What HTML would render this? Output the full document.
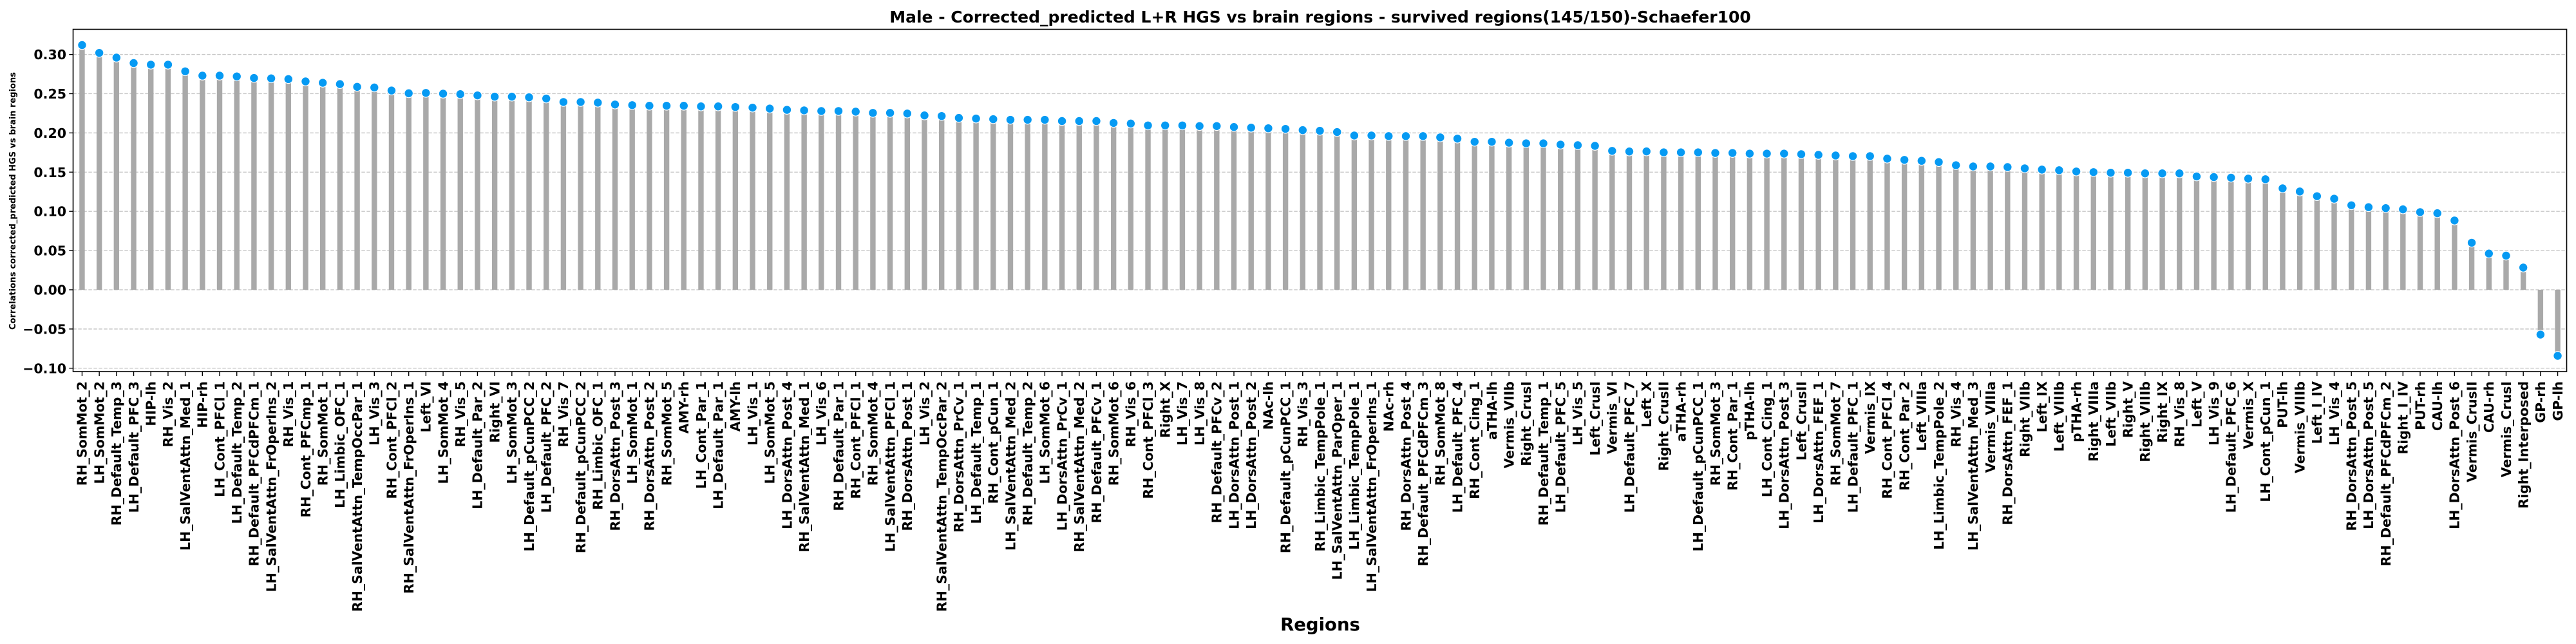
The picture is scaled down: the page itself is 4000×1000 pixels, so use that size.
<!DOCTYPE html>
<html>
<head>
<meta charset="utf-8">
<style>
  html,body{margin:0;padding:0;background:#fff;}
  svg{display:block;font-family:"DejaVu Sans","Liberation Sans",sans-serif;}
</style>
</head>
<body>
<svg id="chart" width="4000" height="1000" viewBox="0 0 4000 1000" xmlns="http://www.w3.org/2000/svg">
  <rect x="0" y="0" width="4000" height="1000" fill="#ffffff"/>
  <text x="2050" y="35" text-anchor="middle" font-size="25" font-weight="bold" fill="#000">Male - Corrected_predicted L+R HGS vs brain regions - survived regions(145/150)-Schaefer100</text>
  <g id="grid"></g>
  <g id="bars"></g>
  <g id="points"></g>
  <rect x="113.5" y="45.5" width="3872" height="531.5" fill="none" stroke="#000" stroke-width="1.6"/>
  <g id="yaxis"></g>
  <g id="xaxis"></g>
  <text transform="translate(24,312) rotate(-90)" text-anchor="middle" font-size="13" font-weight="bold" fill="#000">Correlations corrected_predicted HGS vs brain regions</text>
  <text x="2050" y="979" text-anchor="middle" font-size="27.5" font-weight="bold" fill="#000">Regions</text>
</svg>
<script>
const categories = ["RH_SomMot_2","LH_SomMot_2","RH_Default_Temp_3","LH_Default_PFC_3","HIP-lh","RH_Vis_2","LH_SalVentAttn_Med_1","HIP-rh","LH_Cont_PFCl_1","LH_Default_Temp_2","RH_Default_PFCdPFCm_1","LH_SalVentAttn_FrOperIns_2","RH_Vis_1","RH_Cont_PFCmp_1","RH_SomMot_1","LH_Limbic_OFC_1","RH_SalVentAttn_TempOccPar_1","LH_Vis_3","RH_Cont_PFCl_2","RH_SalVentAttn_FrOperIns_1","Left_VI","LH_SomMot_4","RH_Vis_5","LH_Default_Par_2","Right_VI","LH_SomMot_3","LH_Default_pCunPCC_2","LH_Default_PFC_2","RH_Vis_7","RH_Default_pCunPCC_2","RH_Limbic_OFC_1","RH_DorsAttn_Post_3","LH_SomMot_1","RH_DorsAttn_Post_2","RH_SomMot_5","AMY-rh","LH_Cont_Par_1","LH_Default_Par_1","AMY-lh","LH_Vis_1","LH_SomMot_5","LH_DorsAttn_Post_4","RH_SalVentAttn_Med_1","LH_Vis_6","RH_Default_Par_1","RH_Cont_PFCl_1","RH_SomMot_4","LH_SalVentAttn_PFCl_1","RH_DorsAttn_Post_1","LH_Vis_2","RH_SalVentAttn_TempOccPar_2","RH_DorsAttn_PrCv_1","LH_Default_Temp_1","RH_Cont_pCun_1","LH_SalVentAttn_Med_2","RH_Default_Temp_2","LH_SomMot_6","LH_DorsAttn_PrCv_1","RH_SalVentAttn_Med_2","RH_Default_PFCv_1","RH_SomMot_6","RH_Vis_6","RH_Cont_PFCl_3","Right_X","LH_Vis_7","LH_Vis_8","RH_Default_PFCv_2","LH_DorsAttn_Post_1","LH_DorsAttn_Post_2","NAc-lh","RH_Default_pCunPCC_1","RH_Vis_3","RH_Limbic_TempPole_1","LH_SalVentAttn_ParOper_1","LH_Limbic_TempPole_1","LH_SalVentAttn_FrOperIns_1","NAc-rh","RH_DorsAttn_Post_4","RH_Default_PFCdPFCm_3","RH_SomMot_8","LH_Default_PFC_4","RH_Cont_Cing_1","aTHA-lh","Vermis_VIIb","Right_CrusI","RH_Default_Temp_1","LH_Default_PFC_5","LH_Vis_5","Left_CrusI","Vermis_VI","LH_Default_PFC_7","Left_X","Right_CrusII","aTHA-rh","LH_Default_pCunPCC_1","RH_SomMot_3","RH_Cont_Par_1","pTHA-lh","LH_Cont_Cing_1","LH_DorsAttn_Post_3","Left_CrusII","LH_DorsAttn_FEF_1","RH_SomMot_7","LH_Default_PFC_1","Vermis_IX","RH_Cont_PFCl_4","RH_Cont_Par_2","Left_VIIIa","LH_Limbic_TempPole_2","RH_Vis_4","LH_SalVentAttn_Med_3","Vermis_VIIIa","RH_DorsAttn_FEF_1","Right_VIIb","Left_IX","Left_VIIIb","pTHA-rh","Right_VIIIa","Left_VIIb","Right_V","Right_VIIIb","Right_IX","RH_Vis_8","Left_V","LH_Vis_9","LH_Default_PFC_6","Vermis_X","LH_Cont_pCun_1","PUT-lh","Vermis_VIIIb","Left_I_IV","LH_Vis_4","RH_DorsAttn_Post_5","LH_DorsAttn_Post_5","RH_Default_PFCdPFCm_2","Right_I_IV","PUT-rh","CAU-lh","LH_DorsAttn_Post_6","Vermis_CrusII","CAU-rh","Vermis_CrusI","Right_Interposed","GP-rh","GP-lh"];
const correlations = [0.312,0.302,0.296,0.289,0.287,0.287,0.2785,0.273,0.273,0.272,0.270,0.2695,0.2686,0.2656,0.2639,0.2622,0.2587,0.2579,0.254,0.2505,0.251,0.250,0.2494,0.2478,0.2462,0.2462,0.2454,0.2438,0.2394,0.2394,0.2386,0.2362,0.2354,0.2346,0.2346,0.2346,0.2338,0.2338,0.233,0.2322,0.231,0.2294,0.2287,0.2279,0.2279,0.2271,0.2255,0.2255,0.2247,0.2223,0.2215,0.2191,0.2183,0.2175,0.2167,0.2167,0.2167,0.2151,0.2151,0.2151,0.2127,0.2119,0.2095,0.2095,0.2095,0.2087,0.2087,0.2075,0.2067,0.2059,0.2051,0.2035,0.2027,0.2011,0.1967,0.1967,0.1959,0.1959,0.1959,0.1943,0.1927,0.1887,0.1887,0.1875,0.1867,0.1867,0.1851,0.1843,0.1835,0.1771,0.1763,0.1764,0.1752,0.1752,0.1752,0.1744,0.1744,0.1736,0.1736,0.1736,0.1728,0.172,0.1712,0.1704,0.1704,0.1672,0.1656,0.1644,0.1628,0.1588,0.1572,0.1572,0.1564,0.1548,0.1532,0.1524,0.1508,0.15,0.1492,0.1492,0.1484,0.1484,0.1484,0.1445,0.1437,0.1429,0.1417,0.1409,0.1293,0.1253,0.1193,0.1161,0.1077,0.1053,0.1041,0.1025,0.099,0.0976,0.0883,0.060,0.0462,0.0435,0.0283,-0.0571,-0.0842];
const yTicks = [-0.10,-0.05,0.00,0.05,0.10,0.15,0.20,0.25,0.30];
const yTickLabels = ["\u22120.10","\u22120.05","0.00","0.05","0.10","0.15","0.20","0.25","0.30"];

const NS = "http://www.w3.org/2000/svg";
const plotL = 113.3, plotR = 3985.7, plotT = 45, plotB = 577;
const yMin = -0.1043, yMax = 0.3325;
function xScale(i){ return plotL + (i + 0.53) * (plotR - plotL) / (categories.length + 0.06); }
function yScale(v){ return plotB - (v - yMin) * (plotB - plotT) / (yMax - yMin); }
function mk(tag, attrs, parent){ const e = document.createElementNS(NS, tag); for (const k in attrs) e.setAttribute(k, attrs[k]); parent.appendChild(e); return e; }

const grid = document.getElementById('grid');
const yaxis = document.getElementById('yaxis');
yTicks.forEach((t, k) => {
  const y = yScale(t);
  const gl = mk('line', {x1: plotL, x2: plotR, y1: y, y2: y, stroke: '#c8c8c8', 'stroke-width': 1.4, 'stroke-dasharray': '5.5,2.5'}, grid);
  
  
  const tk = mk('line', {x1: plotL - 6, x2: plotL, y1: y, y2: y, stroke: '#000', 'stroke-width': 1.4}, yaxis);
  
  
  const tl = mk('text', {x: 103, y: y + 7.5, 'text-anchor': 'end', 'font-size': 20.5, 'font-weight': 'bold', fill: '#000'}, yaxis);
  
  
  tl.textContent = yTickLabels[k];
});

const bars = document.getElementById('bars');
const points = document.getElementById('points');
const xaxis = document.getElementById('xaxis');
const y0 = yScale(0);
categories.forEach((c, i) => {
  const x = xScale(i);
  const v = correlations[i];
  const yv = yScale(v);
  const b = mk('rect', {x: x - 4.2, y: Math.min(y0, yv), width: 8.4, height: Math.abs(y0 - yv), fill: '#a9a9a9'}, bars);
  
  
  const p = mk('circle', {cx: x, cy: yv, r: 6.8, fill: '#069af3', stroke: '#ffffff', 'stroke-width': 1.2}, points);
  
  
  const tk = mk('line', {x1: x, x2: x, y1: plotB, y2: plotB + 7, stroke: '#000', 'stroke-width': 1.4}, xaxis);
  
  
  const tl = mk('text', {transform: 'translate(' + (x + 7.3) + ',' + (plotB + 15) + ') rotate(-90)', 'text-anchor': 'end', 'font-size': 20.5, 'font-weight': 'bold', fill: '#000'}, xaxis);
  
  
  tl.textContent = c;
});
</script>
</body>
</html>
